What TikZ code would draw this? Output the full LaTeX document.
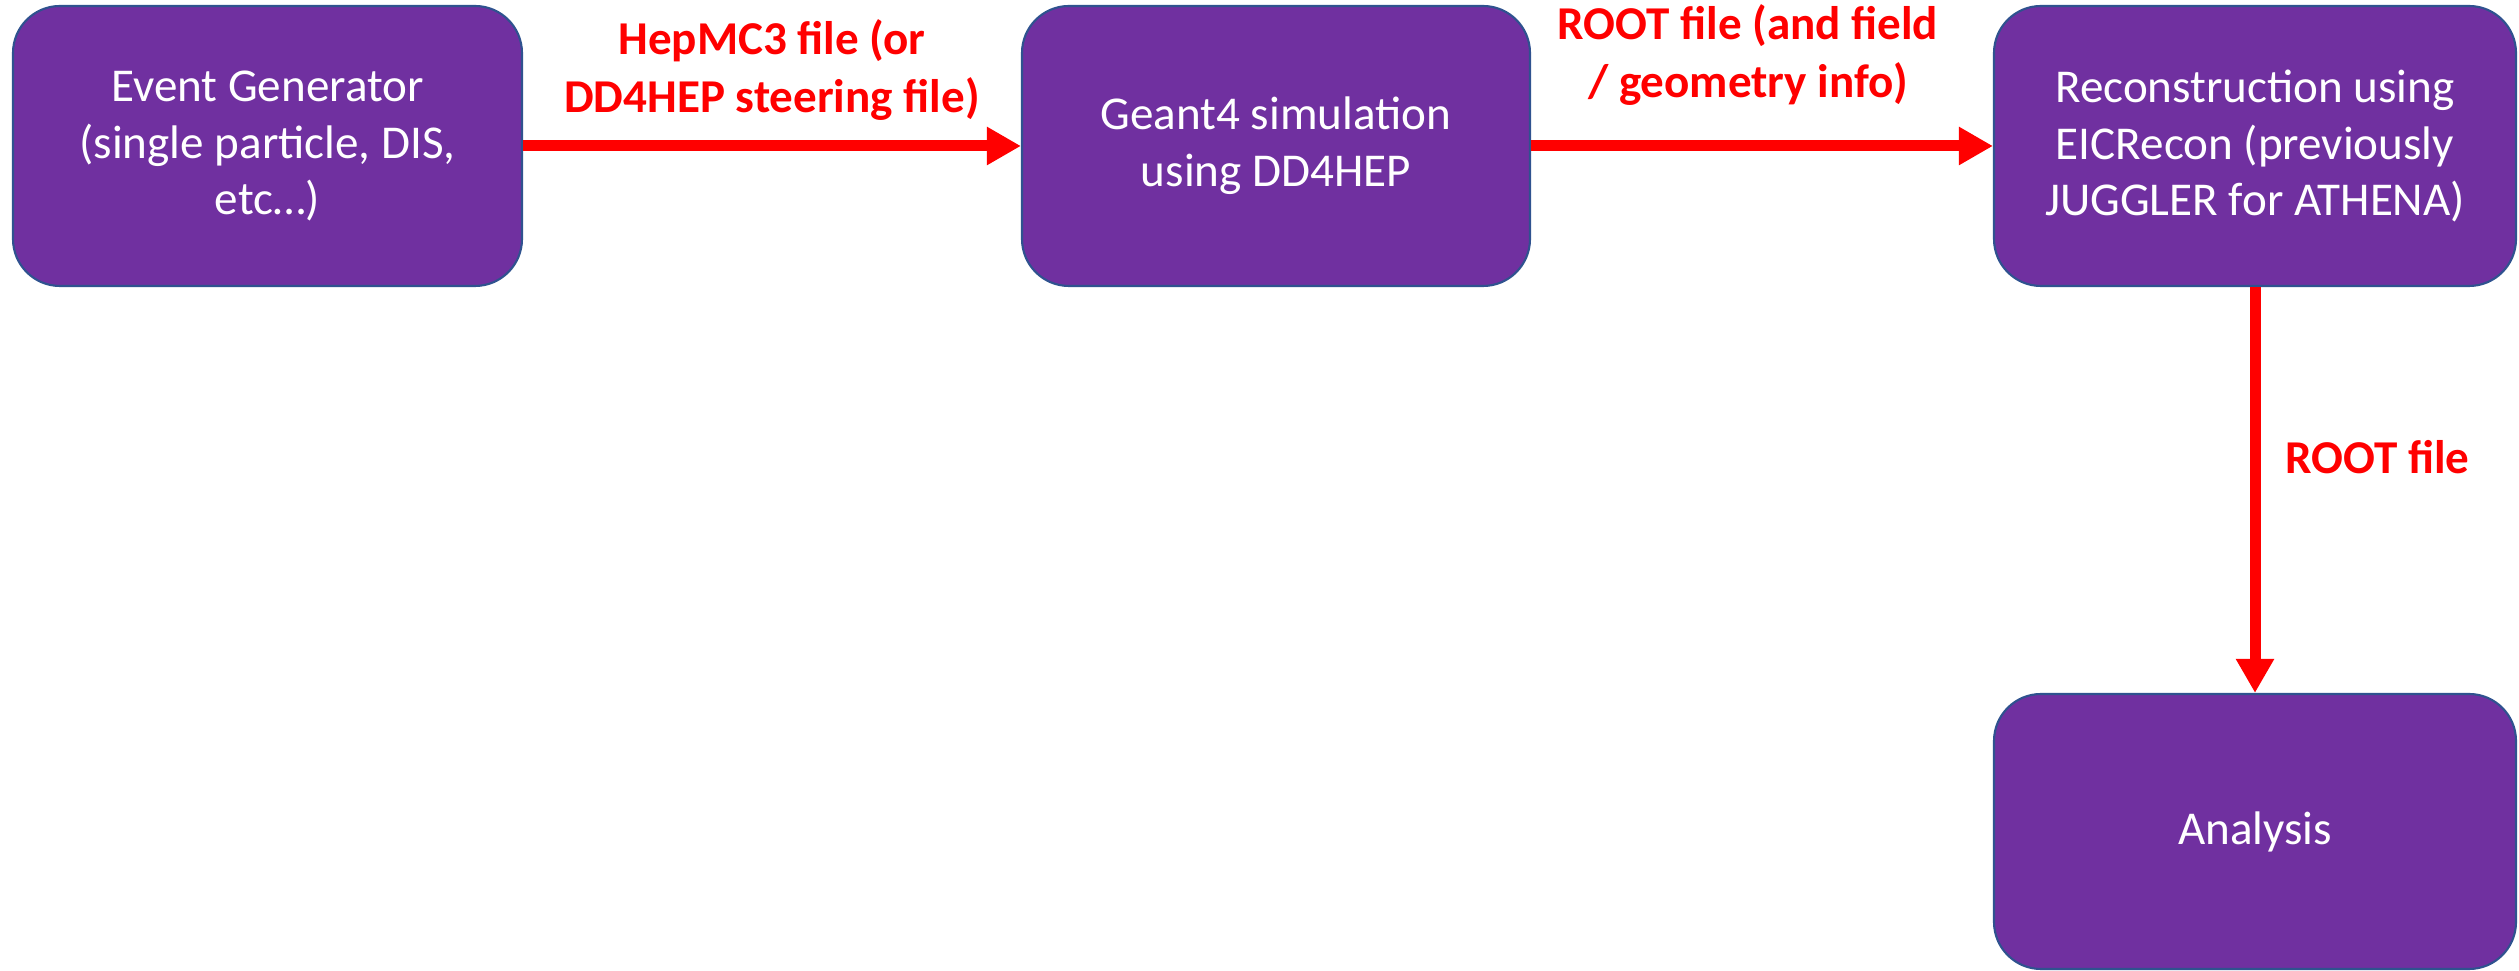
\documentclass[tikz,border=0pt]{standalone}
\usepackage{fontspec}
\setmainfont{Carlito}
\usetikzlibrary{arrows.meta}
\definecolor{boxpurple}{HTML}{7030A0}
\definecolor{boxedge}{HTML}{2F528F}

\begin{document}
\begin{tikzpicture}[
  stage/.style={draw=boxedge, line width=0.6pt, fill=boxpurple, rounded corners=0.47cm, text=white, align=center, inner sep=0pt, minimum height=2.8cm, font=\fontsize{13.4}{16.2}\selectfont},
  flow/.style={red, line width=0.11cm, -{Triangle[length=0.34cm,width=0.36cm]}},
  ftext/.style={text=red, align=center, inner sep=0pt, font=\bfseries\fontsize{13.4}{16.5}\selectfont}
]
\useasboundingbox (0,0) rectangle (25.19,-9.71);

\node[stage, minimum width=5.09cm] (evgen) at (2.675,-1.46) {Event Generator\\(single particle, DIS,\\etc…)};
\node[stage, minimum width=5.08cm] (geant) at (12.76,-1.46) {Geant4 simulation\\using DD4HEP};
\node[stage, minimum width=5.22cm] (recon) at (22.55,-1.46) {Reconstruction using\\EICRecon (previously\\JUGGLER for ATHENA)};
\node[stage, minimum width=5.22cm, minimum height=2.75cm] (ana) at (22.55,-8.315) {Analysis};

\draw[flow] (evgen) -- node[ftext, above=0.2cm] {HepMC3 file (or\\DD4HEP steering file)} (geant);
\draw[flow] (geant) -- node[ftext, above=0.35cm, xshift=-0.14cm] {ROOT file (and field\\/ geometry info)} (recon);
\draw[flow] (recon) -- node[ftext, right=0.25cm, pos=0.42] {ROOT file} (ana);
\end{tikzpicture}
\end{document}
